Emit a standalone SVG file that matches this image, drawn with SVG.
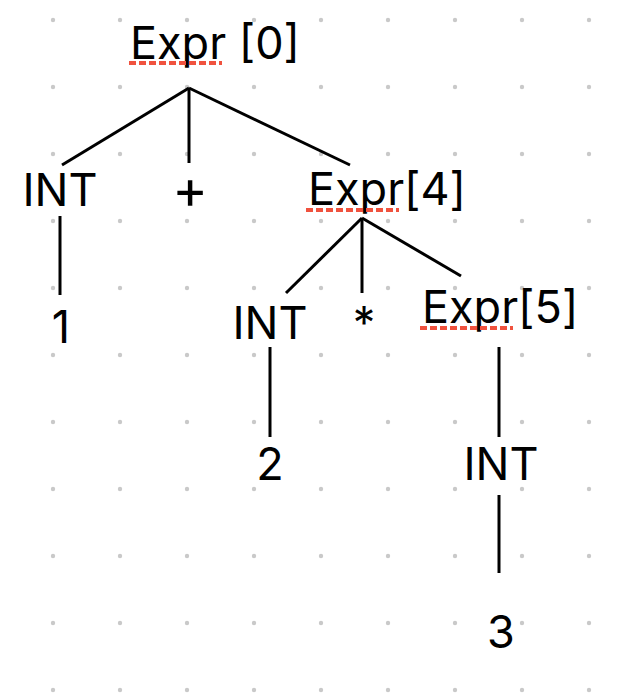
<svg xmlns="http://www.w3.org/2000/svg" width="624" height="696" viewBox="0 0 624 696">
<defs>
<pattern id="dots" x="0" y="0" width="67" height="67" patternUnits="userSpaceOnUse">
<circle cx="53" cy="20" r="2.2" fill="#c9c9c9"/>
</pattern>
<style>
.t{font-family:Inter,"Noto Sans","Liberation Sans",sans-serif;font-size:45px;fill:#000}
.m{text-anchor:middle}
.e{stroke:#000;stroke-width:3;fill:none;stroke-linecap:butt}
.sq{stroke:#f0523e;stroke-width:4;stroke-dasharray:7 3;fill:none}
</style>
</defs>
<rect width="624" height="696" fill="#fff"/>
<rect width="624" height="696" fill="url(#dots)"/>
<g id="connectors">
<line class="e" x1="189" y1="88" x2="62" y2="165"/>
<line class="e" x1="189" y1="88" x2="189" y2="163"/>
<line class="e" x1="189" y1="88" x2="350" y2="165"/>
<line class="e" x1="60" y1="216" x2="60" y2="295"/>
<line class="e" x1="362" y1="218" x2="286" y2="293"/>
<line class="e" x1="362" y1="218" x2="362" y2="293"/>
<line class="e" x1="362" y1="218" x2="461" y2="276"/>
<line class="e" x1="270" y1="347" x2="270" y2="437"/>
<line class="e" x1="499" y1="347" x2="499" y2="437"/>
<line class="e" x1="499" y1="495" x2="499" y2="573"/>
</g>
<g id="expr0"><text class="t" x="130" y="59">Expr [0]</text><line class="sq" x1="129" y1="63" x2="222" y2="63"/></g>
<g id="int1"><text class="t m" x="60" y="206">INT</text></g>
<g id="plus"><text class="t m" x="190" y="208" style="font-size:54px">+</text></g>
<g id="expr4"><text class="t" x="308" y="205">Expr[4]</text><line class="sq" x1="306" y1="210" x2="399" y2="210"/></g>
<g id="one"><text class="t m" x="61" y="343">1</text></g>
<g id="int2"><text class="t m" x="270" y="339">INT</text></g>
<g id="star"><text class="t m" x="364" y="339">*</text></g>
<g id="expr5"><text class="t" x="422" y="323">Expr[5]</text><line class="sq" x1="420" y1="328" x2="513" y2="328"/></g>
<g id="two"><text class="t m" x="270" y="480">2</text></g>
<g id="int3"><text class="t m" x="501" y="480">INT</text></g>
<g id="three"><text class="t m" x="501" y="648">3</text></g>
</svg>
